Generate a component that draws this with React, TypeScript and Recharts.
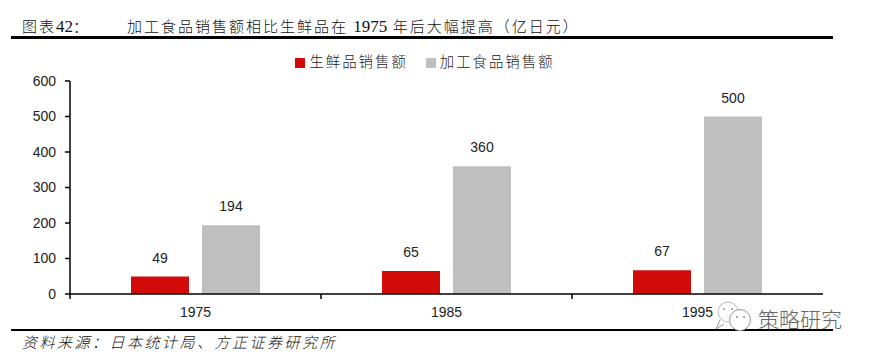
import { BarChart, Bar, XAxis, YAxis, LabelList, Legend } from "recharts";

const years = ["1975", "1985", "1995"];
const freshSales = [49, 65, 67];
const processedSales = [194, 360, 500];
const yTicks = [0, 100, 200, 300, 400, 500, 600];

const chartData = years.map((year, i) => ({
  year,
  fresh: freshSales[i],
  processed: processedSales[i],
}));

const CJK = '"Noto Sans CJK SC", sans-serif';
const LATIN = '"Liberation Sans", sans-serif';
const SERIF = '"Liberation Serif", serif';
const HALF_BAND = 125.5;

// category label plus the small mark on the left edge of each category
function YearTick({ x, y, payload }: any) {
  return (
    <g>
      <line x1={x - HALF_BAND} x2={x - HALF_BAND} y1={y - 8} y2={y - 3} stroke="#000" strokeWidth={1.5} />
      <text x={x} y={y + 15} textAnchor="middle" fill="#222" fontSize={14} fontFamily={LATIN}>
        {payload.value}
      </text>
    </g>
  );
}

function Watermark() {
  return (
    <>
      <svg width={50} height={50} style={{ position: "absolute", left: 710, top: 297 }}>
        <circle cx={18} cy={15} r={10} fill="#fff" stroke="#bbb" strokeWidth={1} />
        <circle cx={30} cy={23} r={10.5} fill="#fff" stroke="#999" strokeWidth={1} />
        <path d="M10 23 L6 32 L14 27" fill="#fff" stroke="#999" strokeWidth={1} />
        <circle cx={14} cy={12} r={1} fill="#999" />
        <circle cx={22} cy={12} r={1} fill="#999" />
        <circle cx={27} cy={20} r={1} fill="#888" />
        <circle cx={34} cy={20} r={1} fill="#888" />
      </svg>
      <div style={{ position: "absolute", left: 758, top: 303, fontFamily: CJK, fontWeight: 300, fontSize: 21, color: "#666", whiteSpace: "nowrap" }}>
        策略研究
      </div>
    </>
  );
}

export default function App() {
  return (
    <div style={{ position: "absolute", left: 0, top: 0, width: 870, height: 356, background: "#fff", overflow: "hidden" }}>
      <div style={{ position: "absolute", left: 22, top: 15, fontFamily: CJK, fontWeight: 300, fontSize: 15, letterSpacing: 2, color: "#111", whiteSpace: "nowrap" }}>
        图表<span style={{ fontFamily: SERIF, fontSize: 17, letterSpacing: 0 }}>42</span>：
      </div>
      <div style={{ position: "absolute", left: 127, top: 15, fontFamily: CJK, fontWeight: 300, fontSize: 15, letterSpacing: 2, color: "#111", whiteSpace: "nowrap" }}>
        加工食品销售额相比生鲜品在 <span style={{ fontFamily: SERIF, fontSize: 17, letterSpacing: 0 }}>1975</span> 年后大幅提高（亿日元）
      </div>
      <div style={{ position: "absolute", left: 11, top: 36, width: 822, height: 3, background: "#000" }} />

      <BarChart
        width={870}
        height={356}
        data={chartData}
        barSize={58}
        barGap={13}
        margin={{ top: 81, right: 47, bottom: 32, left: 40 }}
        style={{ position: "absolute", left: 0, top: 0 }}
      >
        <XAxis
          dataKey="year"
          height={30}
          tickLine={false}
          axisLine={{ stroke: "#000", strokeWidth: 1.5 }}
          tick={<YearTick />}
        />
        <YAxis
          width={30}
          domain={[0, 600]}
          ticks={yTicks}
          interval={0}
          tickSize={5}
          tickLine={{ stroke: "#000", strokeWidth: 1.5 }}
          axisLine={{ stroke: "#000", strokeWidth: 1.5 }}
          tick={{ fill: "#222", fontSize: 14, fontFamily: LATIN }}
          tickMargin={9}
        />
        <Legend
          verticalAlign="middle"
          layout="horizontal"
          iconType="square"
          iconSize={10}
          itemSorter={null}
          wrapperStyle={{ top: 50, left: 0, width: 868, fontFamily: CJK, fontWeight: 300, fontSize: 14.4, letterSpacing: 2 }}
          formatter={(value) => <span style={{ color: "#222", marginRight: 8 }}>{value}</span>}
        />
        <Bar dataKey="fresh" name="生鲜品销售额" fill="#D20A0A" isAnimationActive={false}>
          <LabelList dataKey="fresh" position="top" offset={14} fill="#222" fontSize={14} fontFamily={LATIN} />
        </Bar>
        <Bar dataKey="processed" name="加工食品销售额" fill="#BFBFBF" isAnimationActive={false}>
          <LabelList dataKey="processed" position="top" offset={14} fill="#222" fontSize={14} fontFamily={LATIN} />
        </Bar>
      </BarChart>

      <div style={{ position: "absolute", left: 11, top: 329, width: 822, height: 2, background: "#000" }} />
      <div style={{ position: "absolute", left: 22, top: 331, fontFamily: CJK, fontWeight: 300, fontStyle: "italic", fontSize: 15, letterSpacing: 2.5, color: "#111", whiteSpace: "nowrap" }}>
        资料来源：日本统计局、方正证券研究所
      </div>
      <Watermark />
    </div>
  );
}
